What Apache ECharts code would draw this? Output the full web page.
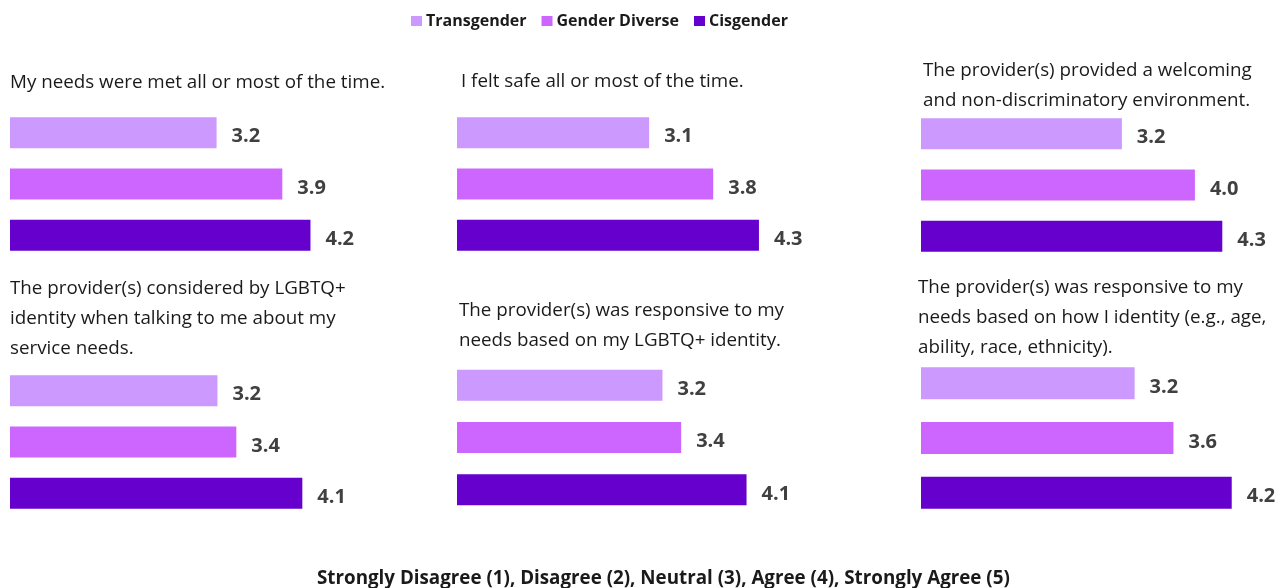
<!DOCTYPE html>
<html>
<head>
<meta charset="utf-8">
<script src="https://cdn.jsdelivr.net/npm/echarts@6/dist/echarts.min.js"></script>
<style>
  html, body { margin: 0; padding: 0; background: #ffffff; }
  #chart { width: 1283px; height: 588px; }
</style>
</head>
<body>
<div id="chart"></div>
<script>
// Respondent groups (one bar each per statement)
const groups = ['Transgender', 'Gender Diverse', 'Cisgender'];

// Survey statements, one small panel each
const statements = [
  'My needs were met all or most of the time.',
  'I felt safe all or most of the time.',
  'The provider(s) provided a welcoming\nand non-discriminatory environment.',
  'The provider(s) considered by LGBTQ+\nidentity when talking to me about my\nservice needs.',
  'The provider(s) was responsive to my\nneeds based on my LGBTQ+ identity.',
  'The provider(s) was responsive to my\nneeds based on how I identity (e.g., age,\nability, race, ethnicity).'
];

// Mean agreement score per statement (1–5 scale)
const transgender   = [3.2, 3.1, 3.2, 3.2, 3.2, 3.2];
const genderDiverse = [3.9, 3.8, 4.0, 3.4, 3.4, 3.6];
const cisgender     = [4.2, 4.3, 4.3, 4.1, 4.1, 4.2];

const scaleNote = 'Strongly Disagree (1), Disagree (2), Neutral (3), Agree (4), Strongly Agree (5)';

const groupValues = [transgender, genderDiverse, cisgender];
const groupColors = ['#CC99FF', '#CC66FF', '#6600CC'];

// Panel layout: grid box, pixels per scale point, statement text position
const panels = [
  { left: 10,  top: 107, height: 154, unit: 93.9, barW: 31, tx: 10,  ty: 68 },
  { left: 457, top: 107, height: 154, unit: 91.5, barW: 31, tx: 461, ty: 67 },
  { left: 921, top: 108, height: 154, unit: 91.3, barW: 31, tx: 923, ty: 56 },
  { left: 10,  top: 365, height: 154, unit: 94.3, barW: 31, tx: 10,  ty: 274 },
  { left: 457, top: 359, height: 157, unit: 93.4, barW: 31, tx: 459, ty: 296 },
  { left: 921, top: 356, height: 164, unit: 97.1, barW: 32, tx: 918, ty: 273 }
];
const PANEL_W = 340;

const FONT = '"Open Sans", Lato, sans-serif';

const grid = [], xAxis = [], yAxis = [], series = [], title = [];

panels.forEach((p, i) => {
  grid.push({ left: p.left, top: p.top, width: PANEL_W, height: p.height, containLabel: false });
  xAxis.push({
    gridIndex: i, type: 'value', min: 1, max: 1 + PANEL_W / p.unit, show: false
  });
  yAxis.push({
    gridIndex: i, type: 'category', data: groups, inverse: true, show: false
  });
  title.push({
    text: statements[i],
    left: p.tx, top: p.ty, padding: 0,
    textStyle: { fontFamily: FONT, fontSize: 18.8, fontWeight: 'normal', color: '#1a1a1a', lineHeight: 30 }
  });
  groups.forEach((g, gi) => {
    const data = groups.map((_, k) => (k === gi ? groupValues[gi][i] : '-'));
    series.push({
      name: g,
      type: 'bar',
      xAxisIndex: i,
      yAxisIndex: i,
      data: data,
      barWidth: p.barW,
      barGap: '-100%',
      itemStyle: { color: groupColors[gi] },
      label: {
        show: true,
        position: 'right',
        distance: 15,
        offset: [0, 4],
        fontFamily: FONT,
        fontSize: 20,
        fontWeight: 'bold',
        color: '#404040',
        formatter: (d) => Number(d.value).toFixed(1)
      },
      emphasis: { disabled: true }
    });
  });
});

title.push({
  text: scaleNote,
  left: 317, top: 569, padding: 0,
  textStyle: { fontFamily: FONT, fontSize: 18.8, fontWeight: 'bold', color: '#1a1a1a' }
});

const chart = echarts.init(document.getElementById('chart'), null, { renderer: 'canvas' });
chart.setOption({
  animation: false,
  backgroundColor: '#ffffff',
  title: title,
  legend: {
    data: groups,
    left: 411, top: 13, padding: 0,
    icon: 'rect',
    itemWidth: 11, itemHeight: 10, itemGap: 15,
    textStyle: { fontFamily: FONT, fontSize: 16, fontWeight: 'bold', color: '#1a1a1a', padding: [0, 0, 0, -1] }
  },
  grid: grid,
  xAxis: xAxis,
  yAxis: yAxis,
  series: series
});
</script>
</body>
</html>
